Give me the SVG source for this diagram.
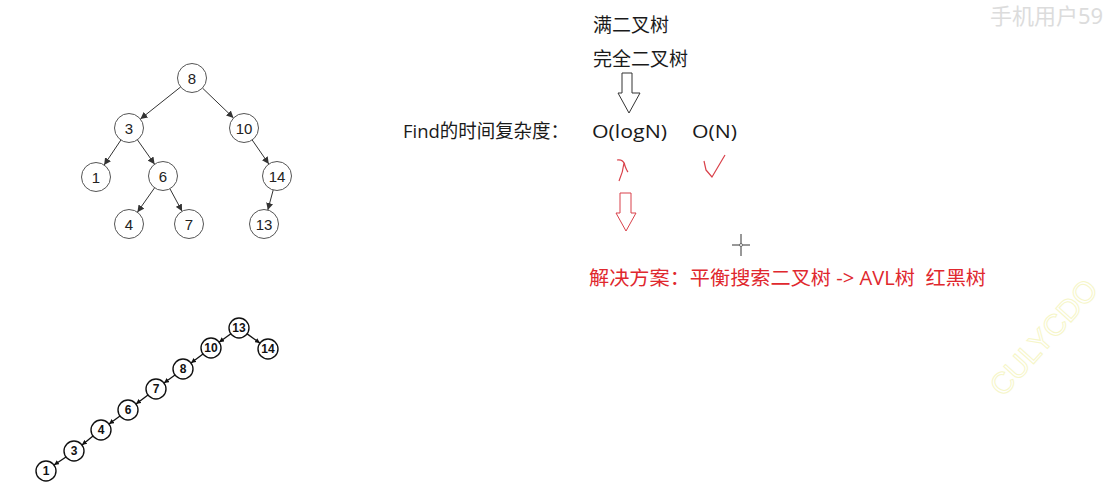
<svg xmlns="http://www.w3.org/2000/svg" width="1111" height="490" viewBox="0 0 1111 490">
<defs>
<style>
.n1 circle{fill:#fff;stroke:#555;stroke-width:1}
.n1 text{font-family:"Liberation Sans",Arial,sans-serif;font-size:15px;fill:#222;text-anchor:middle;dominant-baseline:central}
.n2 circle{fill:#fff;stroke:#111;stroke-width:1.4}
.n2 text{font-family:"Liberation Sans",Arial,sans-serif;font-size:12px;font-weight:bold;fill:#111;text-anchor:middle;dominant-baseline:central}
.e1{stroke:#333;stroke-width:1;fill:none;marker-end:url(#a1)}
.e2{stroke:#111;stroke-width:1.3;fill:none;marker-end:url(#a2)}
.t{font-family:"Open Sans","Noto Sans CJK SC",sans-serif;font-size:19px;fill:#1a1a1a}
.r{font-family:"Open Sans","Noto Sans CJK SC",sans-serif;font-size:19.5px;fill:#e0282e}
</style>
<marker id="a1" viewBox="0 0 10 10" refX="10" refY="5" markerWidth="7" markerHeight="7" markerUnits="userSpaceOnUse" orient="auto"><path d="M0,0 L10,5 L0,10 z" fill="#333"/></marker>
<marker id="a2" viewBox="0 0 10 10" refX="10" refY="5" markerWidth="5" markerHeight="5" markerUnits="userSpaceOnUse" orient="auto"><path d="M0,0 L10,5 L0,10 z" fill="#111"/></marker>
</defs>
<rect width="1111" height="490" fill="#fff"/>

<g id="connectors">
<line class="e1" x1="180.6" y1="87" x2="140.4" y2="119"/>
<line class="e1" x1="202.5" y1="88.1" x2="233.5" y2="117.9"/>
<line class="e1" x1="120.9" y1="140" x2="104.1" y2="165"/>
<line class="e1" x1="137.4" y1="139.8" x2="154.6" y2="164.2"/>
<line class="e1" x1="252.2" y1="140" x2="268.8" y2="164"/>
<line class="e1" x1="154.6" y1="187.8" x2="137.4" y2="212.2"/>
<line class="e1" x1="169.9" y1="188.7" x2="182.1" y2="211.3"/>
<line class="e1" x1="273.2" y1="190" x2="267.8" y2="210"/>
<line class="e2" x1="230.9" y1="333.8" x2="219.1" y2="342.2"/>
<line class="e2" x1="247.1" y1="333.9" x2="259.9" y2="343.1"/>
<line class="e2" x1="203" y1="354" x2="191" y2="363"/>
<line class="e2" x1="175" y1="375" x2="164" y2="383"/>
<line class="e2" x1="148" y1="395" x2="136" y2="404"/>
<line class="e2" x1="120" y1="416" x2="109" y2="424"/>
<line class="e2" x1="93" y1="436" x2="82" y2="445"/>
<line class="e2" x1="66" y1="457" x2="54" y2="465"/>
</g>

<g id="t8" class="n1"><circle cx="192" cy="78" r="14.5"/><text x="192" y="78">8</text></g>
<g id="t3" class="n1"><circle cx="129" cy="128" r="14.5"/><text x="129" y="128">3</text></g>
<g id="t10" class="n1"><circle cx="244" cy="128" r="14.5"/><text x="244" y="128">10</text></g>
<g id="t1" class="n1"><circle cx="96" cy="177" r="14.5"/><text x="96" y="177">1</text></g>
<g id="t6" class="n1"><circle cx="163" cy="176" r="14.5"/><text x="163" y="176">6</text></g>
<g id="t14" class="n1"><circle cx="277" cy="176" r="14.5"/><text x="277" y="176">14</text></g>
<g id="t4" class="n1"><circle cx="129" cy="224" r="14.5"/><text x="129" y="224">4</text></g>
<g id="t7" class="n1"><circle cx="189" cy="224" r="14.5"/><text x="189" y="224">7</text></g>
<g id="t13" class="n1"><circle cx="264" cy="224" r="14.5"/><text x="264" y="224">13</text></g>

<g id="c13" class="n2"><circle cx="239" cy="328" r="10"/><text x="239" y="328">13</text></g>
<g id="c14" class="n2"><circle cx="268" cy="349" r="10"/><text x="268" y="349">14</text></g>
<g id="c10" class="n2"><circle cx="211" cy="348" r="10"/><text x="211" y="348">10</text></g>
<g id="c8" class="n2"><circle cx="183" cy="369" r="10"/><text x="183" y="369">8</text></g>
<g id="c7" class="n2"><circle cx="156" cy="389" r="10"/><text x="156" y="389">7</text></g>
<g id="c6" class="n2"><circle cx="128" cy="410" r="10"/><text x="128" y="410">6</text></g>
<g id="c4" class="n2"><circle cx="101" cy="430" r="10"/><text x="101" y="430">4</text></g>
<g id="c3" class="n2"><circle cx="74" cy="451" r="10"/><text x="74" y="451">3</text></g>
<g id="c1" class="n2"><circle cx="46" cy="471" r="10"/><text x="46" y="471">1</text></g>

<g id="notes">
<text class="t" x="593" y="32">满二叉树</text>
<text class="t" x="593" y="66">完全二叉树</text>
<path d="M622,73 L632,73 L632,93 L640,93 L629,113 L618,93 L622,93 Z" fill="#fff" stroke="#333" stroke-width="1"/>
<text class="t" x="403" y="138" textLength="166" lengthAdjust="spacingAndGlyphs">Find的时间复杂度：</text>
<text class="t" x="592" y="138" textLength="75" lengthAdjust="spacingAndGlyphs">O(logN)</text>
<text class="t" x="692" y="138" textLength="45" lengthAdjust="spacingAndGlyphs">O(N)</text>
<path d="M617,160 Q624,159 625,166 Q627,171 628,172 M624,163 Q623,172 619,181" fill="none" stroke="#d9414a" stroke-width="1.2"/>
<path d="M704,161 L706,170 L712,177 L725,155" fill="none" stroke="#d9414a" stroke-width="1.2" stroke-linejoin="round"/>
<path d="M620,193 L631,193 L631,213 L636,213 L626,231 L616,213 L620,213 Z" fill="#fff" stroke="#d9414a" stroke-width="1"/>
<path d="M732,245 L750,245 M741,234 L741,256" stroke="#333" stroke-width="1"/>
<circle cx="741" cy="245" r="1.5" fill="#fff" stroke="#555" stroke-width="0.8"/>
<text class="r" x="589" y="285" xml:space="preserve" textLength="397" lengthAdjust="spacingAndGlyphs">解决方案：平衡搜索二叉树 -&gt; AVL树  红黑树</text>
</g>

<text x="990" y="24" font-family="Noto Sans,Noto Sans CJK SC,sans-serif" font-size="22" fill="#dcdcdc">手机用户59</text>
<text x="1003" y="398" transform="rotate(-48 1003 398)" font-family="Liberation Sans,Arial,sans-serif" font-size="30" fill="none" stroke="#f6f6c8" stroke-width="1">CULYCDO</text>
</svg>
